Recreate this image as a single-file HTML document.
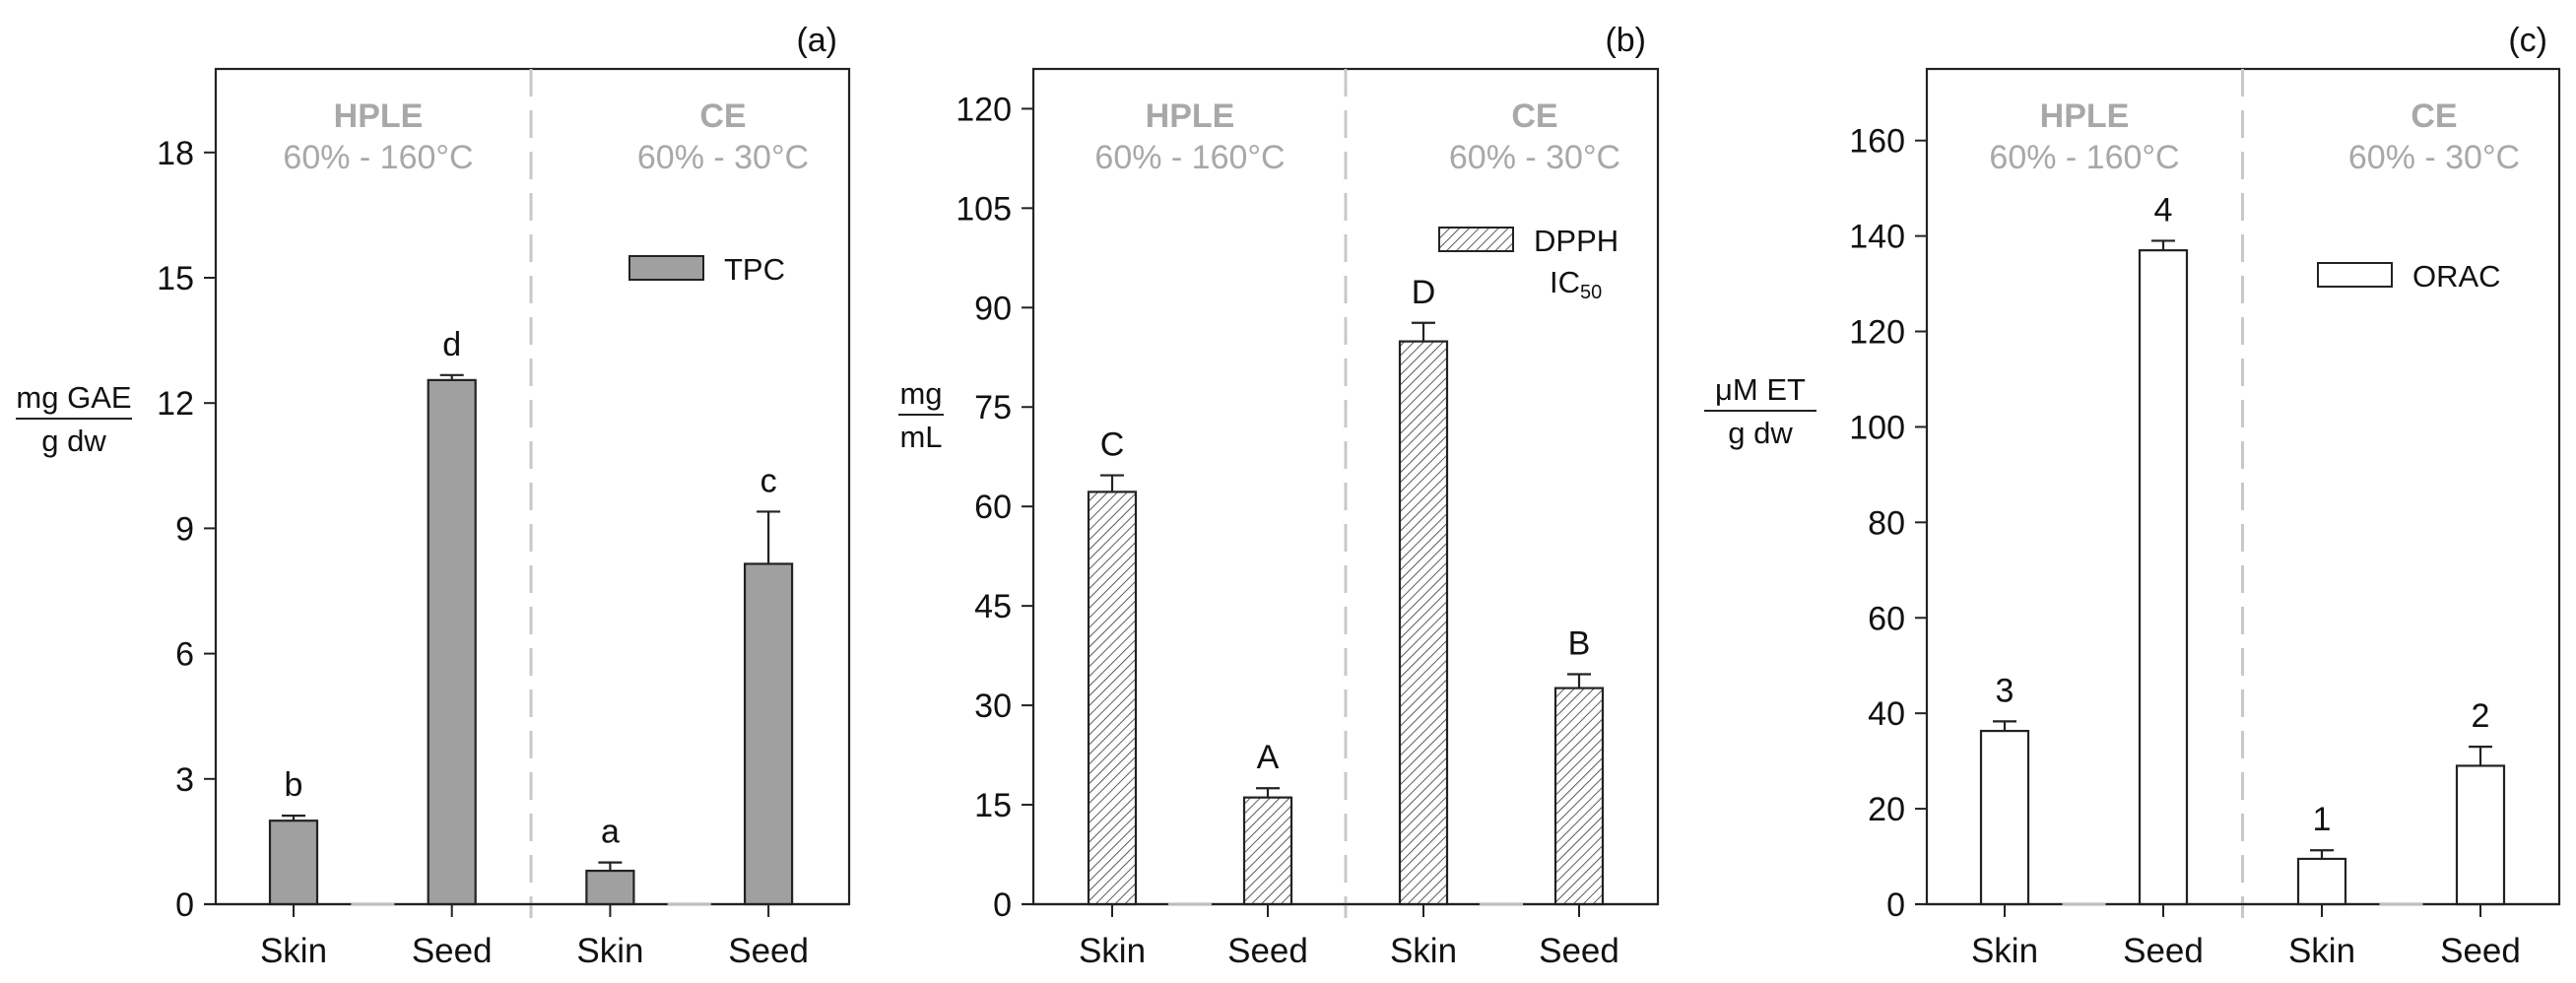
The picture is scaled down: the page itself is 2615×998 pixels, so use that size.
<!DOCTYPE html>
<html><head><meta charset="utf-8">
<style>
html,body{margin:0;padding:0;background:#fff;}
svg{display:block;font-family:"Liberation Sans",Arial,sans-serif;}
</style></head>
<body>
<svg id="fig" width="2615" height="998" viewBox="0 0 2615 998" xmlns="http://www.w3.org/2000/svg">
<defs>
<pattern id="hatch" patternUnits="userSpaceOnUse" width="7" height="7" patternTransform="rotate(45)">
<rect width="7" height="7" fill="#fff"/>
<line x1="0" y1="0" x2="0" y2="7" stroke="#333" stroke-width="1.6"/>
</pattern>
</defs>
</svg>
<script>
const categories = ["Skin","Seed","Skin","Seed"];
const groupLabels = ["HPLE","CE"];
const groupSubLabels = ["60% - 160°C","60% - 30°C"];
const tpcValues = [2.0, 12.55, 0.8, 8.15];
const tpcErrors = [0.12, 0.12, 0.2, 1.25];
const tpcLetters = ["b","d","a","c"];
const tpcTicks = [0,3,6,9,12,15,18];
const dpphValues = [62.2, 16.1, 84.9, 32.6];
const dpphErrors = [2.5, 1.4, 2.8, 2.1];
const dpphLetters = ["C","A","D","B"];
const dpphTicks = [0,15,30,45,60,75,90,105,120];
const oracValues = [36.3, 137.0, 9.5, 29.0];
const oracErrors = [2.0, 2.0, 1.8, 4.0];
const oracLetters = ["3","4","1","2"];
const oracTicks = [0,20,40,60,80,100,120,140,160];

const NS = "http://www.w3.org/2000/svg";
const svg = document.getElementById("fig");
function mk(tag, attrs, parent, text){
  const e = document.createElementNS(NS, tag);
  for (const k in attrs) e.setAttribute(k, attrs[k]);
  if (text !== undefined) e.textContent = text;
  (parent||svg).appendChild(e);
  return e;
}

function panel(cfg){
  const g = mk("g", {});
  
  
  const L=cfg.left, R=cfg.right, T=70, B=918;
  const y = v => B - v/cfg.max*(B-T);
  const x = i => cfg.centers[0] + i*cfg.step;
  const bw = 48;
  const frame = mk("rect",{x:L,y:T,width:R-L,height:B-T,fill:"none",stroke:"#222","stroke-width":2.2},g);
  
  
  const divX = (x(1)+x(2))/2;
  const dv = mk("line",{x1:divX,y1:T,x2:divX,y2:B+14,stroke:"#c8c8c8","stroke-width":3,"stroke-dasharray":"28,14"},g);
  
  
  [0,1].forEach(k=>{
    const cx = cfg.groupCenters[k];
    const t1 = mk("text",{x:cx,y:129,"text-anchor":"middle","font-size":34,"font-weight":"bold",fill:"#a8a8a8"},g,groupLabels[k]);
    
    
    const t2 = mk("text",{x:cx,y:171,"text-anchor":"middle","font-size":34,fill:"#a8a8a8"},g,groupSubLabels[k]);
    
    
  });
  cfg.ticks.forEach(v=>{
    const yy=y(v);
    const tk = mk("line",{x1:L-12,y1:yy,x2:L,y2:yy,stroke:"#222","stroke-width":2},g);
    
    
    const tl = mk("text",{x:L-22,y:yy+12,"text-anchor":"end","font-size":34,fill:"#111"},g,String(v));
    
    
  });
  cfg.values.forEach((v,i)=>{
    const cx=x(i);
    const bar = mk("rect",{x:cx-bw/2,y:y(v),width:bw,height:B-y(v),fill:cfg.fill,stroke:"#222","stroke-width":2.2},g);
    
    
    const ey=y(v+cfg.errors[i]);
    const e1 = mk("line",{x1:cx,y1:y(v),x2:cx,y2:ey,stroke:"#222","stroke-width":2.2},g);
    
    
    const e2 = mk("line",{x1:cx-12,y1:ey,x2:cx+12,y2:ey,stroke:"#222","stroke-width":2.2},g);
    
    
    const lt = mk("text",{x:cx,y:ey-20,"text-anchor":"middle","font-size":34,fill:"#111"},g,cfg.letters[i]);
    
    
    const xt = mk("line",{x1:cx,y1:B,x2:cx,y2:B+13,stroke:"#222","stroke-width":2},g);
    
    
    const xl = mk("text",{x:cx,y:977,"text-anchor":"middle","font-size":35,fill:"#111"},g,categories[i]);
    
    
  });
  const ax = mk("line",{x1:L-12,y1:B,x2:R,y2:B,stroke:"#222","stroke-width":2.2},g);
  
  
  [[0,1],[2,3]].forEach(p=>{
    const m=(x(p[0])+x(p[1]))/2;
    const gp = mk("line",{x1:m-22,y1:B,x2:m+22,y2:B,stroke:"#bdbdbd","stroke-width":2.4},g);
    
    
  });
  const lg = mk("g",{},g);
  
  
  const lb = mk("rect",{x:cfg.leg.x,y:cfg.leg.y,width:75,height:24,fill:cfg.fill,stroke:"#222","stroke-width":2},lg);
  
  
  const ltx = mk("text",{x:cfg.leg.x+96,y:cfg.leg.y+24,"font-size":31,fill:"#111"},lg,cfg.legText);
  
  
  if (cfg.legSub){
    const s = mk("text",{x:cfg.leg.x+112,y:cfg.leg.y+66,"font-size":31,fill:"#111"},lg);
    
    
    mk("tspan",{},s,"IC");
    mk("tspan",{"font-size":20,dy:6},s,"50");
  }
  const yl = mk("g",{},g);
  
  
  mk("text",{x:cfg.ylab.x,y:cfg.ylab.y,"text-anchor":"middle","font-size":31,fill:"#111"},yl,cfg.ylab.top);
  mk("line",{x1:cfg.ylab.x-cfg.ylab.w/2,y1:cfg.ylab.y+11,x2:cfg.ylab.x+cfg.ylab.w/2,y2:cfg.ylab.y+11,stroke:"#222","stroke-width":2},yl);
  mk("text",{x:cfg.ylab.x,y:cfg.ylab.y+44,"text-anchor":"middle","font-size":31,fill:"#111"},yl,cfg.ylab.bot);
  const pl = mk("text",{x:R-12,y:52,"text-anchor":"end","font-size":34,fill:"#111"},g,cfg.tag);
  
  
}

panel({name:"panel-a-tpc",left:219,right:862,max:20,centers:[298],step:160.7,groupCenters:[384,734],
  ticks:tpcTicks,values:tpcValues,errors:tpcErrors,letters:tpcLetters,fill:"#a0a0a0",
  leg:{x:639,y:260},legText:"TPC",ylab:{x:75,y:414,w:118,top:"mg GAE",bot:"g dw"},tag:"(a)"});
panel({name:"panel-b-dpph",left:1049,right:1683,max:126,centers:[1129],step:158,groupCenters:[1208,1558],
  ticks:dpphTicks,values:dpphValues,errors:dpphErrors,letters:dpphLetters,fill:"url(#hatch)",
  leg:{x:1461,y:231},legText:"DPPH",legSub:true,ylab:{x:935,y:410,w:46,top:"mg",bot:"mL"},tag:"(b)"});
panel({name:"panel-c-orac",left:1956,right:2598,max:175,centers:[2035],step:161,groupCenters:[2116,2471],
  ticks:oracTicks,values:oracValues,errors:oracErrors,letters:oracLetters,fill:"#fff",
  leg:{x:2353,y:267},legText:"ORAC",ylab:{x:1787,y:406,w:114,top:"μM ET",bot:"g dw"},tag:"(c)"});
</script>
</body></html>
